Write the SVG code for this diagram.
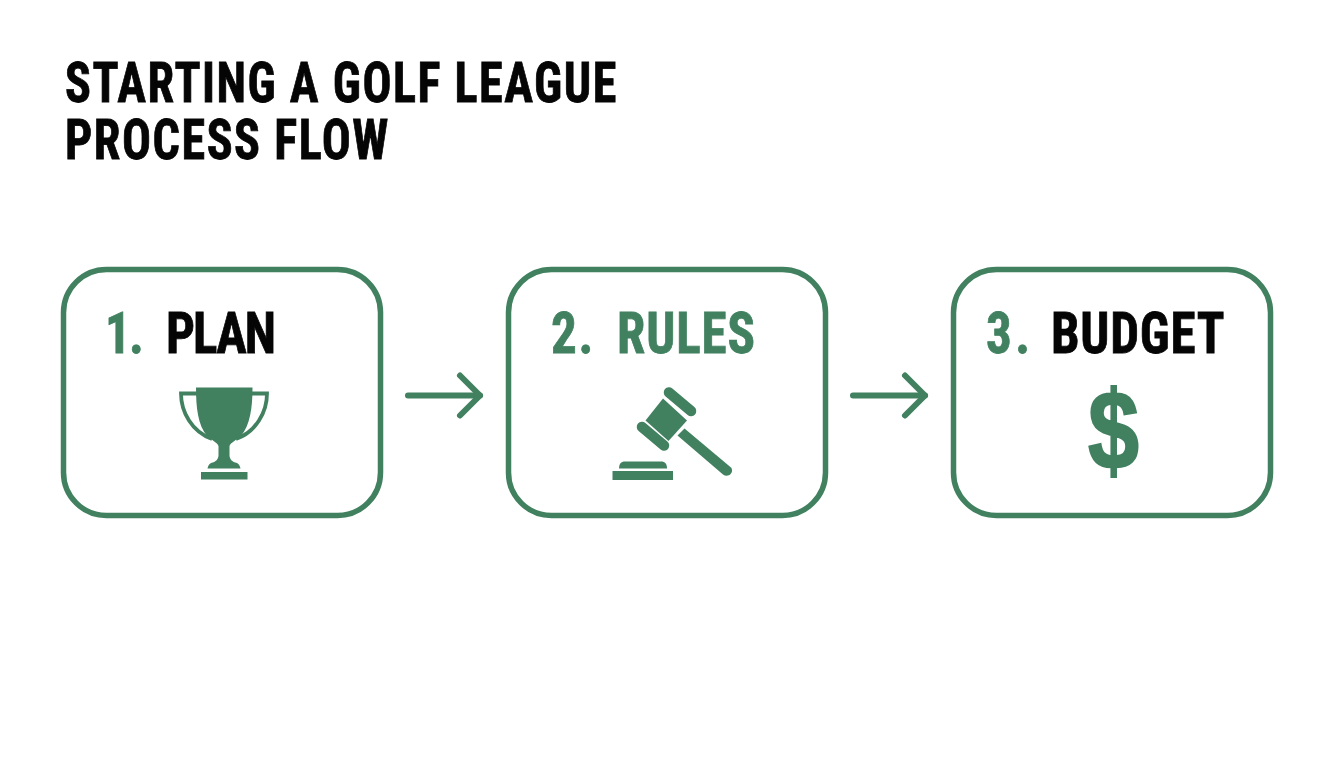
<svg xmlns="http://www.w3.org/2000/svg" width="1344" height="768" viewBox="0 0 1344 768">
<style>
text{font-family:Roboto,"Liberation Sans",sans-serif;font-weight:700;font-stretch:75%}
.title{font-size:56px;fill:#050505;stroke:#050505;stroke-width:.8}
.lab{font-size:58px}
.k{fill:#050505;stroke:#050505;stroke-width:.8}
.g{fill:#418160;stroke:#418160;stroke-width:0}
.lab.g{stroke-width:.8}
.box{fill:#fff;stroke:#418160;stroke-width:5.5}
.conn{fill:none;stroke:#418160;stroke-width:6;stroke-linecap:round}
.ln{fill:none;stroke:#418160;stroke-linecap:round}
</style>
<defs>
<marker id="head" markerUnits="userSpaceOnUse" markerWidth="40" markerHeight="60" viewBox="-30 -30 40 60" refX="0" refY="0" orient="auto">
<path d="M-20,-20 L0,0 L-20,20" fill="none" stroke="#418160" stroke-width="6" stroke-linecap="round" stroke-linejoin="round"/>
</marker>
</defs>
<rect width="1344" height="768" fill="#fff"/>
<g id="title">
<text class="title" transform="translate(65 102) scale(.86 1)" textLength="641" lengthAdjust="spacing">STARTING A GOLF LEAGUE</text>
<text class="title" transform="translate(65 158.500) scale(.86 1)" textLength="376" lengthAdjust="spacing">PROCESS FLOW</text>
</g>
<g id="connectors">
<line class="conn" x1="408" y1="395.500" x2="480" y2="395.500" marker-end="url(#head)"/>
<line class="conn" x1="853" y1="395.500" x2="925" y2="395.500" marker-end="url(#head)"/>
</g>
<g id="node-plan">
<rect class="box" x="63.500" y="269.500" width="317" height="246" rx="43"/>
<text class="lab g" transform="translate(105 353) scale(.88 1)" textLength="44" lengthAdjust="spacing">1.</text>
<text class="lab k" transform="translate(166 353) scale(.88 1)" textLength="125" lengthAdjust="spacing">PLAN</text>
<g id="icon-trophy">
<path class="g" d="M196 387.500H252.500C252.500 408 250 425 241 436C237 440 231 442 229.500 446V455C229.500 459 232 462 237 463C239 464 240 466 240.500 468.500H207.500C208 466 209 464 211 463C216 462 218.500 459 218.500 455V446C217 442 211 440 207 436C198 425 196 408 196 387.500Z"/>
<rect class="g" x="201" y="472" width="46.500" height="7.500"/>
<path d="M197 393.500H181C181 412 192 432 212 439M251 393.500H267C267 412 256 432 236 439" fill="none" stroke="#418160" stroke-width="3.800"/>
</g>
</g>
<g id="node-rules">
<rect class="box" x="508.500" y="269.500" width="317" height="246" rx="43"/>
<text class="lab g" transform="translate(551 353) scale(.88 1)" textLength="48" lengthAdjust="spacing">2.</text>
<text class="lab g" transform="translate(617 353) scale(.88 1)" textLength="157" lengthAdjust="spacing">RULES</text>
<g id="icon-gavel">
<path class="g" d="M663 398.500L687 420.500L668.500 441L645.500 420.500Z"/>
<line class="ln" x1="669" y1="392.500" x2="691" y2="411" stroke-width="10.500"/>
<line class="ln" x1="642" y1="427" x2="664" y2="445.500" stroke-width="10.500"/>
<path class="g" d="M684.500 428.500L731 467.500C733 470 732 473 729.500 475C727 476 725 476 723 474.500L677.500 435.500Z"/>
<rect class="g" x="612.500" y="471" width="60.500" height="9"/>
<path class="g" d="M619 468.500C619 464 621 461.500 625 461.500H661C665 461.500 667 464 667 468.500Z"/>
</g>
</g>
<g id="node-budget">
<rect class="box" x="953.500" y="269.500" width="317" height="246" rx="43"/>
<text class="lab g" transform="translate(986 353) scale(.88 1)" textLength="50" lengthAdjust="spacing">3.</text>
<text class="lab k" transform="translate(1051 353) scale(.88 1)" textLength="197" lengthAdjust="spacing">BUDGET</text>
<text class="g" id="icon-dollar" x="1088" y="469" font-size="112" textLength="51" lengthAdjust="spacingAndGlyphs" style="stroke-width:2;font-family:'Liberation Sans',sans-serif;font-stretch:normal">$</text>
</g>
</svg>
